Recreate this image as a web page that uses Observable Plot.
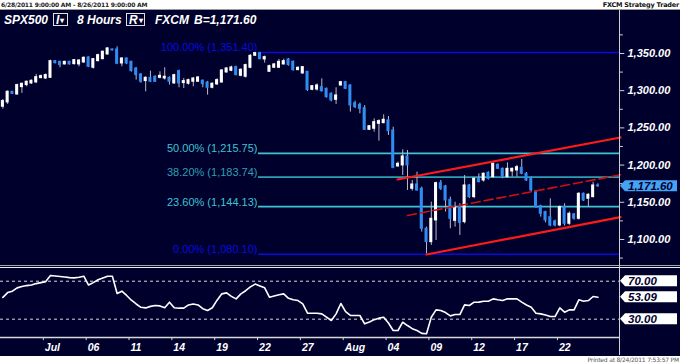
<!DOCTYPE html>
<html><head><meta charset="utf-8">
<script src="https://cdn.jsdelivr.net/npm/d3@7"></script>
<script src="https://cdn.jsdelivr.net/npm/@observablehq/plot@0.6"></script>
<style>
html,body{margin:0;padding:0;background:#fff;}
#wrap{position:relative;width:680px;height:363px;overflow:hidden;font-family:"Liberation Sans",Arial,sans-serif;}
#range{position:absolute;left:1px;top:1px;font-size:6px;font-weight:bold;color:#222;font-family:"DejaVu Sans",sans-serif;letter-spacing:-0.2px;}
#brand{position:absolute;right:1px;top:1px;font-size:6.5px;font-weight:bold;color:#111;font-family:"DejaVu Sans",sans-serif;letter-spacing:-0.2px;}
#panel{position:absolute;left:0;top:9px;width:680px;height:346px;background:#00002d;border-top:1px solid #9a9a9a;}
.h{position:absolute;top:13px;color:#fff;font-weight:bold;font-style:italic;font-size:12px;line-height:14px;}
.box{position:absolute;top:13px;height:13px;border:1px solid #e0e0e0;color:#fff;font-weight:bold;font-style:italic;font-size:12px;line-height:13px;padding-left:2px;box-sizing:border-box;}
.tri{font-size:8px;font-style:normal;vertical-align:top;margin-left:1px;}
#vline{position:absolute;left:619px;top:10px;width:1px;height:345px;background:#cfcfcf;}
#main{position:absolute;left:0;top:30px;}
#sepA{position:absolute;left:0;top:265px;width:680px;height:1px;background:#a8a8a8;}
#sepB{position:absolute;left:0;top:267px;width:680px;height:1px;background:#ececec;}
#rsi{position:absolute;left:0;top:268px;}
#printed{position:absolute;right:1px;top:356px;font-size:6px;color:#555;font-family:"DejaVu Sans",sans-serif;letter-spacing:-0.2px;}
svg{overflow:visible;}
</style>
</head><body>
<div id="wrap">
 <div id="range">6/28/2011 9:00:00 AM - 8/26/2011 9:00:00 AM</div>
 <div id="brand">FXCM Strategy Trader</div>
 <div id="panel"></div>
 <div class="h" style="left:4px">SPX500</div>
 <div class="box" style="left:53px;width:15px">I<span class="tri">▾</span></div>
 <div class="h" style="left:77px">8 Hours</div>
 <div class="box" style="left:126px;width:19px">R<span class="tri">▾</span></div>
 <div class="h" style="left:155px">FXCM</div>
 <div class="h" style="left:194px">B=1,171.60</div>
 <div id="main"></div>
 <div id="sepA"></div><div id="sepB"></div>
 <div id="rsi"></div>
 <div id="vline"></div>
 <div id="printed">Printed at 8/24/2011 7:53:57 PM</div>
</div>
<script>
// ---- data (8-hour bars, index 0 = 6/28 first bar) ----
const open = [1278.4,1284.2,1298.5,1294.9,1304.8,1307.5,1309.7,1311.1,1316.9,1316.4,1317.3,1339.7,1338.8,1335.3,1338.8,1335.7,1335.3,1337.9,1344.7,1330.8,1339.7,1342.4,1348.7,1355.4,1355.4,1336.6,1343.3,1338.8,1329.9,1321.8,1312.9,1317.3,1318.7,1317.3,1316.4,1317.3,1309.7,1326.3,1310.2,1309.3,1312,1312,1313.3,1311,1303.9,1308.4,1311,1324.5,1326.7,1331.7,1320,1318.7,1330.8,1346.9,1350.5,1342,1325.4,1330.8,1330.8,1335.3,1342,1338.8,1327.6,1323.2,1325.4,1301.2,1301.6,1304.8,1302.5,1295.8,1287.7,1307,1311.5,1307,1283.2,1281,1276.5,1247.4,1248.8,1255.5,1256.4,1260,1246.5,1198.1,1199.5,1211.6,1168.1,1173.9,1168.1,1114.4,1096.4,1125.6,1175.7,1171.3,1153.3,1125,1143.5,1123.3,1172.6,1156.9,1181.6,1179.3,1189.6,1183.8,1200.4,1195,1183.8,1191.4,1192.8,1196.3,1188.3,1182.5,1164.5,1144.8,1136.8,1130,1124.2,1118.8,1143.5,1121.1,1133.6,1127.8,1161.4,1154.7,1156.9,1172.6];
const high = [1288.2,1299.9,1299,1308.8,1310,1313,1314.5,1321.8,1321,1322.5,1341,1340.5,1339.5,1339.5,1339.5,1342,1341.5,1345.5,1345.5,1343.3,1349,1353.5,1358,1356,1359,1344.2,1344,1339.5,1331,1323,1318.7,1326.3,1320,1325.4,1330.8,1318.7,1322,1327.6,1316.4,1315.5,1317.8,1319,1314.5,1312.5,1310.5,1316,1328.5,1331,1333,1333,1329.5,1335.7,1348.5,1351.4,1351.4,1346.5,1334.4,1336.6,1342,1342.4,1343.3,1340,1332,1332.5,1326,1307,1309.2,1316,1303.5,1297,1303.9,1312.5,1312.5,1308,1286,1283.2,1280,1253,1262.2,1260.9,1267.6,1265.3,1251,1204,1220.5,1219.6,1179.3,1190.5,1170.4,1116.6,1150.2,1177,1179.3,1172.6,1156.9,1150,1148,1186,1174,1183,1188.3,1189.6,1191,1203.5,1201.5,1196,1203,1196,1199.5,1207.5,1190,1184,1166,1146,1138,1154.7,1126,1145,1148,1137,1135,1163,1162.5,1161.5,1177,1174.8];
const low = [1275.2,1281.5,1295,1294,1296.3,1305.2,1308.5,1309.7,1316,1315,1316.4,1336,1330.8,1334.5,1334.5,1334.4,1332.1,1336.8,1331,1329,1338.8,1341.5,1347.8,1353.5,1335,1332.1,1335,1325,1314.2,1310,1298.5,1311,1311,1316,1314.2,1307.5,1308.8,1303.9,1303,1307.5,1305.2,1311,1303.9,1294,1302.5,1307,1310,1323.5,1325.5,1320,1318.7,1317,1329.5,1346,1341.5,1337,1324.5,1330,1330,1334.4,1333,1326.3,1327,1322,1299,1300,1299.4,1298,1290,1285,1281.5,1306,1301.5,1271.2,1276,1268.9,1246.5,1246.5,1244.3,1232.2,1255.5,1239.8,1195,1197.2,1186,1165.9,1165,1165,1109.9,1080.8,1092,1098.7,1165.9,1136.8,1114.4,1116.6,1105.4,1121,1155,1155,1176,1177,1180,1182,1194,1181.6,1182,1184,1183.8,1187,1178,1164,1142,1130,1122.4,1117,1117,1117,1118,1119,1126,1126,1151,1143.5,1156,1170];
const close = [1286,1298.5,1295.8,1307.5,1309.3,1312,1313.3,1318.2,1319.6,1321,1339.7,1337,1334.4,1338.8,1335.3,1341.1,1340.6,1344.2,1332.1,1342.4,1347.8,1352.3,1356.8,1354.1,1336.2,1343.3,1336.6,1326.3,1320.9,1312,1317.3,1312,1312,1320,1318.7,1312,1320.9,1309.7,1312.9,1314.2,1316.4,1317.8,1308.8,1303.9,1309.3,1314.2,1327.2,1329.9,1331.2,1320.9,1328.1,1334.4,1346.9,1350.5,1342.4,1345.1,1333,1335.3,1338.8,1339.7,1334.4,1327.6,1330.8,1331.7,1300.8,1306.1,1307,1299.4,1291.3,1286.8,1293.6,1311.5,1302.5,1280.1,1277.9,1275.6,1247.4,1252.3,1257.7,1259.1,1260.9,1245.6,1196.3,1201.7,1211.6,1199.5,1173.9,1165.9,1114.4,1096.4,1127.8,1175.7,1168.1,1152.4,1127.8,1143.5,1122.4,1172.6,1156.9,1181.6,1177.1,1188.3,1181.6,1201.7,1195,1183.8,1195,1195,1197.2,1188.3,1179.3,1165.9,1143.5,1134.5,1125.6,1118.8,1118.8,1143.5,1121.1,1134.5,1127.8,1161.4,1152.4,1160.1,1172.6,1171.6];
const rsi = [53,58,59.5,63,64.5,65.4,66,67.5,68.5,69.6,76,75.5,75,74.5,73.8,73.5,74.2,75.3,66,68.5,71.5,73.5,75.3,75.3,57,59.5,55,50,46,42.5,41.9,43.5,44.4,44,42,47.9,42,41.6,41.6,45,46,45,41,39.1,42,50,56.7,57.7,54,51.4,56.7,60,64,67,65,63,53.2,54.5,55.8,56.7,52,50.4,49.6,46.1,36.3,36.3,36.3,35.6,32.1,28.6,35.6,46.5,38,34,33.9,33.9,25.1,27,29.5,31.1,32.1,26,18.1,18.1,26.8,23.3,20,18.1,15,14.6,32.1,39.8,39.1,37,33.5,34.9,34.9,45.1,44.4,47.9,48,48.9,48.9,51.4,50.4,49.6,51.4,51.4,51.4,48,45,42.6,36.3,35.6,34.5,32.8,32.8,41.9,37.4,39.8,39.8,50.4,48.9,49.6,53.9,53.09];

// Fibonacci retracement levels
const fibPct = ["100.00%", "50.00%", "38.20%", "23.60%", "0.00%"];
const fibVal = [1351.40, 1215.75, 1183.74, 1144.13, 1080.10];
const fibColor = ["#0a0ae0", "#3ec3d2", "#2c9fb0", "#3ec3d2", "#0a0ae0"];
const fibStartBar = 53.7;

// trend channel (bar index, price)
const chanUpperX = [82.9, 129.75], chanUpperY = [1180.6, 1237.1];
const chanLowerX = [89, 129.75],   chanLowerY = [1079.8, 1130.0];
const chanMidX   = [85, 129.75],   chanMidY   = [1132.3, 1187.0];

// axes
const yTicks = [1100, 1150, 1200, 1250, 1300, 1350];
const yMinor = [1075, 1125, 1175, 1225, 1275, 1325, 1375];
const xLabels = ["Jul","06","11","14","19","22","27","Aug","04","09","12","17","22"];
const xDays   = [3, 6, 9, 12, 15, 18, 21, 24, 27, 30, 33, 36, 39];
const rsiLevels = [70, 30];
const lastPrice = 1171.60;

// ---- build ----
const N = open.length;
const candles = d3.range(N).map(i => ({i, o: open[i], h: high[i], l: low[i], c: close[i]}));
const fibs = fibVal.map((v, k) => ({v, p: fibPct[k], col: fibColor[k]}));
const f2 = d3.format(",.2f");
const xDomain = [-0.5, 129.75];
const mainDomain = [1067.7, 1380.9];
const rsiDomain = [10.7, 83.4];
const labelFont = {fontWeight: "bold", fontStyle: "italic", fontSize: 11, fontFamily: "Liberation Sans, Arial, sans-serif"};

function tagMark(vals, fmt, fill, textFill) {
  return (index, scales, values, dimensions) => {
    const g = d3.create("svg:g");
    const x0 = dimensions.width - dimensions.marginRight;
    for (const v of vals) {
      const y = scales.y(v);
      g.append("path")
        .attr("d", `M${x0},${y} L${x0 + 5},${y - 5.5} H${x0 + 57} V${y + 5.5} H${x0 + 5} Z`)
        .attr("fill", fill);
      g.append("text")
        .attr("x", x0 + 8).attr("y", y).attr("dy", "0.36em")
        .attr("text-anchor", "start")
        .attr("fill", textFill)
        .attr("font-family", "Liberation Sans, Arial, sans-serif")
        .attr("font-weight", "bold").attr("font-style", "italic").attr("font-size", 11.5)
        .text(fmt(v));
    }
    return g.node();
  };
}

const main = Plot.plot({
  width: 680, height: 233,
  marginLeft: 0, marginRight: 60, marginTop: 0, marginBottom: 0,
  style: {background: "transparent", overflow: "visible"},
  x: {domain: xDomain, axis: null},
  y: {domain: mainDomain, axis: null},
  color: {type: "identity"},
  marks: [
    Plot.ruleY(fibs, {y: "v", x1: fibStartBar, x2: xDomain[1], stroke: "col", strokeWidth: 1.6}),
    Plot.text(fibs, {x: fibStartBar, y: "v", text: d => `${d.p} (${f2(d.v)})`, fill: "col",
      textAnchor: "end", lineAnchor: "bottom", dx: -1, dy: -1, fontSize: 11, fontFamily: "Liberation Sans, Arial, sans-serif"}),
    Plot.ruleX(candles, {x: "i", y1: "l", y2: "h", stroke: "#b9b9c6", strokeWidth: 1}),
    Plot.rect(candles, {x1: d => d.i - 0.32, x2: d => d.i + 0.32, y1: "o", y2: "c",
      fill: d => d.c >= d.o ? "#ffffff" : "#2f8cf0", insetTop: -0.5, insetBottom: -0.5}),
    Plot.line(chanUpperX.map((x, k) => ({x, y: chanUpperY[k]})), {x: "x", y: "y", stroke: "#ff1a1a", strokeWidth: 2.2}),
    Plot.line(chanLowerX.map((x, k) => ({x, y: chanLowerY[k]})), {x: "x", y: "y", stroke: "#ff1a1a", strokeWidth: 2.2}),
    Plot.line(chanMidX.map((x, k) => ({x, y: chanMidY[k]})), {x: "x", y: "y", stroke: "#d40f0f", strokeWidth: 1.6, strokeDasharray: "9,4"}),
    Plot.ruleY(yTicks, {y: d => d, x1: xDomain[1], x2: xDomain[1] + 0.9, stroke: "#d0d0d0"}),
    Plot.ruleY(yMinor, {y: d => d, x1: xDomain[1], x2: xDomain[1] + 0.6, stroke: "#d0d0d0"}),
    Plot.text(yTicks, {x: xDomain[1], y: d => d, text: d => f2(d), dx: 7, textAnchor: "start", fill: "#ffffff", ...labelFont}),
    tagMark([lastPrice], f2, "#46a2f4", "#00002d")
  ]
});
document.getElementById("main").appendChild(main);

const rsiPlot = Plot.plot({
  width: 680, height: 87,
  marginLeft: 0, marginRight: 60, marginTop: 0, marginBottom: 18,
  style: {background: "transparent", overflow: "visible"},
  x: {domain: xDomain, axis: null},
  y: {domain: rsiDomain, axis: null},
  marks: [
    Plot.ruleY(rsiLevels, {y: d => d, x1: xDomain[0], x2: xDomain[1], stroke: "#d8d8e0", strokeDasharray: "3,3", strokeWidth: 1}),
    Plot.line(rsi, {x: (d, i) => i, y: d => d, stroke: "#ffffff", strokeWidth: 1.6}),
    Plot.ruleY([rsiDomain[0]], {y: d => d, x1: xDomain[0], x2: xDomain[1], stroke: "#d8d8d8", strokeWidth: 1.5}),
    Plot.ruleX(xDays, {x: d => 3 * d - 0.5, y1: rsiDomain[0], y2: rsiDomain[0] - 3.3, stroke: "#d8d8d8"}),
    Plot.text(xLabels, {x: (d, i) => 3 * xDays[i] - 0.5, y: rsiDomain[0], text: d => d, dy: 10.5, dx: 1.5,
      textAnchor: "start", fill: "#ffffff", ...labelFont, fontSize: 10.5}),
    tagMark([rsiLevels[0], rsi[rsi.length - 1], rsiLevels[1]], f2, "#ffffff", "#00002d")
  ]
});
document.getElementById("rsi").appendChild(rsiPlot);
</script>
</body></html>
